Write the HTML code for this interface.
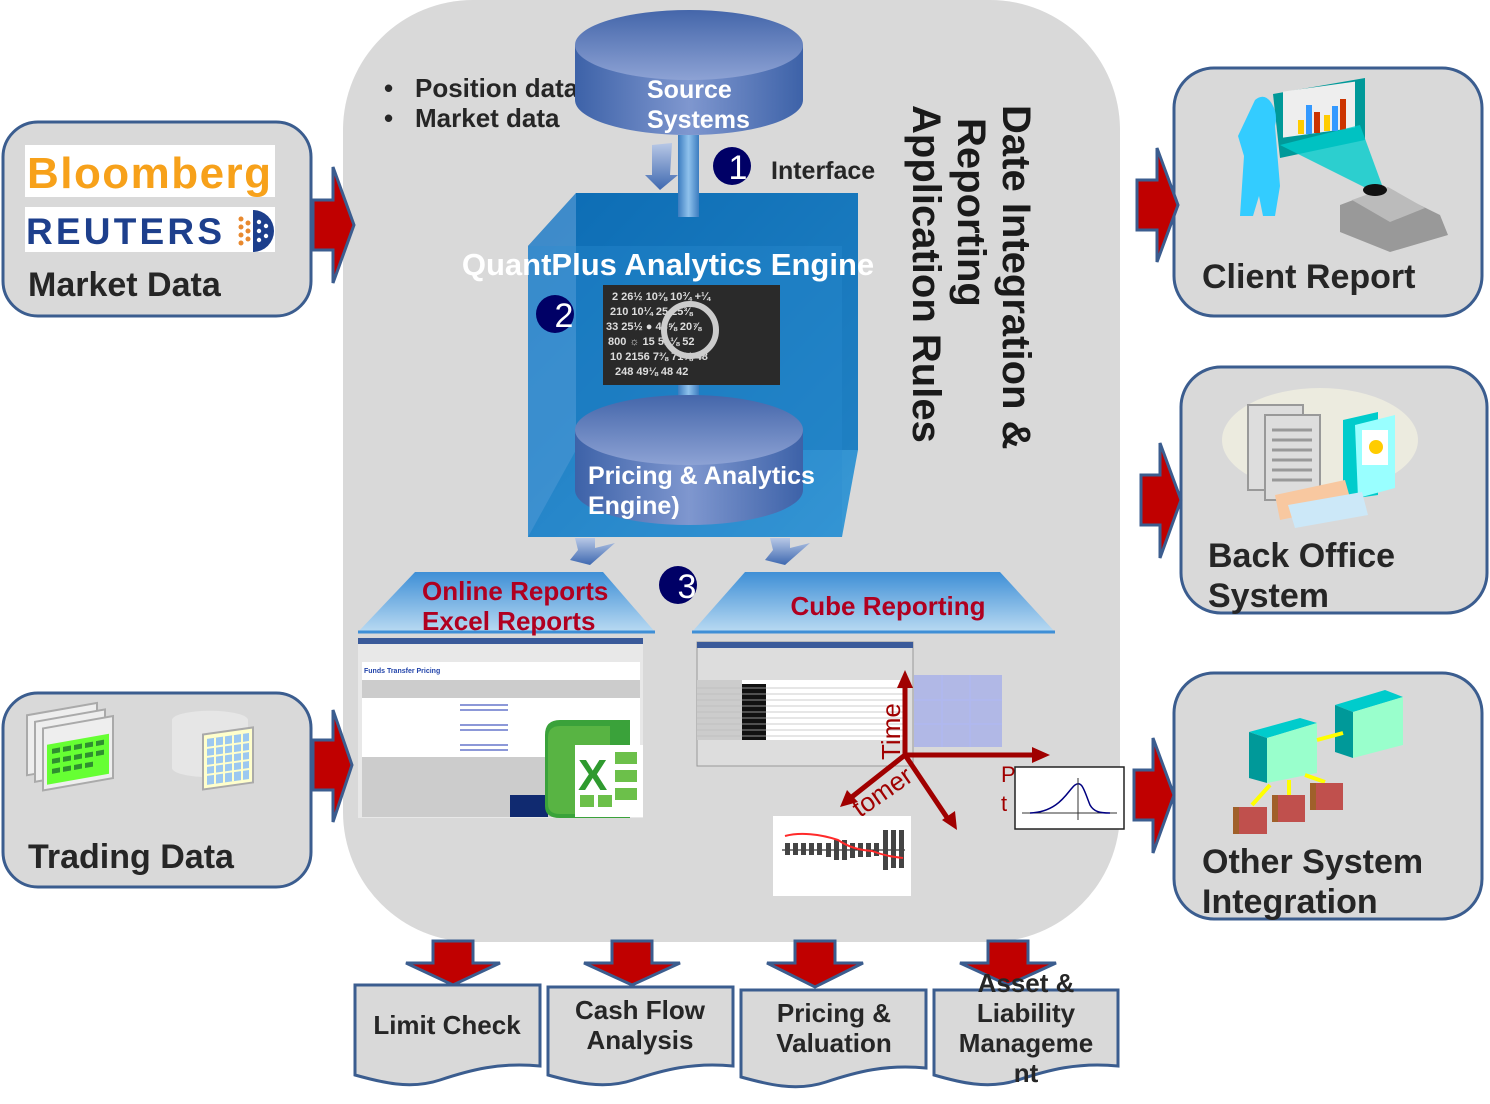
<!DOCTYPE html>
<html><head><meta charset="utf-8"><style>
html,body{margin:0;padding:0;background:#fff;}
svg{display:block;font-family:"Liberation Sans",sans-serif;}
</style></head><body>
<svg width="1490" height="1104" viewBox="0 0 1490 1104" xmlns="http://www.w3.org/2000/svg">
<defs>
<linearGradient id="cyl" x1="0" x2="1" y1="0" y2="0">
<stop offset="0" stop-color="#3d62a8"/><stop offset="0.5" stop-color="#7f97cf"/><stop offset="1" stop-color="#3d62a8"/></linearGradient>
<linearGradient id="cyltop" x1="0" x2="0" y1="0" y2="1">
<stop offset="0" stop-color="#4466aa"/><stop offset="1" stop-color="#8da2d4"/></linearGradient>
<linearGradient id="box" x1="0" x2="1" y1="0" y2="1">
<stop offset="0" stop-color="#0f6db5"/><stop offset="1" stop-color="#3a9ad6"/></linearGradient>
<linearGradient id="trap" x1="0" x2="0" y1="0" y2="1">
<stop offset="0" stop-color="#3f8fd6"/><stop offset="1" stop-color="#b9daf2"/></linearGradient>
<linearGradient id="pipe" x1="0" x2="1"><stop offset="0" stop-color="#3b7cc0"/><stop offset="0.5" stop-color="#8fc2ec"/><stop offset="1" stop-color="#3b7cc0"/></linearGradient>
<linearGradient id="dn" x1="0" x2="0" y1="0" y2="1"><stop offset="0" stop-color="#b8c8e6"/><stop offset="1" stop-color="#3e68b0"/></linearGradient>
</defs>

<rect x="343" y="0" width="777" height="942" rx="130" fill="#d9d9d9"/>

<rect x="3" y="122" width="308" height="194" rx="35" fill="#d9d9d9" stroke="#3b5d8f" stroke-width="3"/>
<rect x="25" y="145" width="250" height="52" fill="#fff"/>
<text x="27" y="188" font-size="44" font-weight="bold" fill="#f7a11a" textLength="244">Bloomberg</text>
<rect x="25" y="207" width="250" height="45" fill="#fff"/>
<text x="26" y="244" font-size="37" font-weight="bold" fill="#1d3f8c" textLength="196">REUTERS</text>
<g fill="#e8892f"><circle cx="241" cy="219" r="2.5"/><circle cx="241" cy="227" r="2.5"/><circle cx="241" cy="235" r="2.5"/><circle cx="241" cy="243" r="2.5"/><circle cx="248" cy="223" r="2.5"/><circle cx="248" cy="231" r="2.5"/><circle cx="248" cy="239" r="2.5"/></g>
<path d="M253,210 A21,21 0 0 1 253,252 Z" fill="#1d3f8c"/>
<g fill="#fff"><circle cx="259" cy="222" r="2.2"/><circle cx="259" cy="231" r="2.2"/><circle cx="259" cy="240" r="2.2"/><circle cx="266" cy="226" r="2.2"/><circle cx="266" cy="236" r="2.2"/></g>
<text x="28" y="296" font-size="34" font-weight="bold" fill="#262626">Market Data</text>

<rect x="3" y="693" width="308" height="194" rx="35" fill="#d9d9d9" stroke="#3b5d8f" stroke-width="3"/>
<g>
<rect x="27" y="715" width="70" height="60" fill="#eee" stroke="#aaa" stroke-width="2" transform="skewY(-10) translate(0,5)"/>
<rect x="35" y="722" width="70" height="60" fill="#eee" stroke="#aaa" stroke-width="2" transform="skewY(-10) translate(0,6)"/>
<rect x="43" y="728" width="70" height="62" fill="#eee" stroke="#aaa" stroke-width="2" transform="skewY(-10) translate(0,8)"/>
<rect x="47" y="745" width="62" height="40" fill="#66ff33" transform="skewY(-10) translate(0,8)"/>
<g fill="#2f8f2f" transform="skewY(-10) translate(0,8)"><rect x="52" y="750" width="8" height="5"/><rect x="63" y="750" width="8" height="5"/><rect x="74" y="750" width="8" height="5"/><rect x="85" y="750" width="8" height="5"/><rect x="96" y="750" width="8" height="5"/><rect x="52" y="760" width="8" height="5"/><rect x="63" y="760" width="8" height="5"/><rect x="74" y="760" width="8" height="5"/><rect x="85" y="760" width="8" height="5"/><rect x="96" y="760" width="8" height="5"/><rect x="52" y="770" width="8" height="5"/><rect x="63" y="770" width="8" height="5"/><rect x="74" y="770" width="8" height="5"/><rect x="85" y="770" width="8" height="5"/></g>
<path d="M172,720 a37,9 0 0 1 76,0 v48 a37,9 0 0 1 -76,0 z" fill="#e6e6e6"/>
<rect x="203" y="735" width="50" height="55" fill="#ffffcc" stroke="#aaa" stroke-width="2" transform="skewY(-8) translate(0,28)"/>
<rect x="207" y="740" width="42" height="46" fill="#9cc8f0" transform="skewY(-8) translate(0,28)"/>
<g stroke="#ffffcc" stroke-width="2" transform="skewY(-8) translate(0,28)"><line x1="207" y1="749" x2="249" y2="749"/><line x1="207" y1="758" x2="249" y2="758"/><line x1="207" y1="767" x2="249" y2="767"/><line x1="207" y1="776" x2="249" y2="776"/><line x1="215" y1="740" x2="215" y2="786"/><line x1="224" y1="740" x2="224" y2="786"/><line x1="233" y1="740" x2="233" y2="786"/><line x1="242" y1="740" x2="242" y2="786"/></g>
</g>
<text x="28" y="868" font-size="34" font-weight="bold" fill="#262626">Trading Data</text>

<path d="M313,200 H333 V167 L354,225 L333,283 V250 H313 Z" fill="#c00000" stroke="#3b5d8f" stroke-width="3"/>
<path d="M313,740 H333 V710 L352,765 L333,822 V790 H313 Z" fill="#c00000" stroke="#3b5d8f" stroke-width="3"/>

<rect x="1174" y="68" width="308" height="248" rx="40" fill="#d9d9d9" stroke="#3b5d8f" stroke-width="3"/>
<polygon points="1273,94 1365,78 1365,140 1280,158" fill="#009999"/>
<rect x="1283" y="92" width="72" height="46" fill="#eee" transform="skewY(-8) translate(0,180)"/>
<g><rect x="1298" y="120" width="6" height="14" fill="#ffcc00"/><rect x="1306" y="105" width="6" height="29" fill="#3399ff"/><rect x="1314" y="112" width="6" height="21" fill="#cc3300"/><rect x="1324" y="115" width="6" height="16" fill="#ffcc00"/><rect x="1332" y="106" width="6" height="25" fill="#3399ff"/><rect x="1340" y="99" width="6" height="31" fill="#cc3300"/></g>
<polygon points="1280,145 1360,125 1382,185 1370,190" fill="#00cccc" opacity="0.8"/>
<path d="M1255,100 q10,-8 17,4 q6,10 3,22 l5,60 l-5,30 h-12 l-4,-20 l-6,20 h-13 l4,-60 l-6,-20 z" fill="#33ccff"/>
<polygon points="1340,205 1385,188 1440,215 1448,235 1390,252 1340,232" fill="#999"/>
<polygon points="1352,200 1388,187 1425,208 1390,222" fill="#bbb"/>
<ellipse cx="1375" cy="190" rx="12" ry="6" fill="#111"/>
<text x="1202" y="288" font-size="34" font-weight="bold" fill="#262626">Client Report</text>

<rect x="1181" y="367" width="306" height="246" rx="40" fill="#d9d9d9" stroke="#3b5d8f" stroke-width="3"/>
<ellipse cx="1320" cy="440" rx="98" ry="52" fill="#ecebdf"/>
<rect x="1248" y="405" width="55" height="85" fill="#ddd" stroke="#999" stroke-width="2"/>
<rect x="1265" y="415" width="55" height="85" fill="#ddd" stroke="#999" stroke-width="2"/>
<g stroke="#999" stroke-width="3"><line x1="1272" y1="430" x2="1312" y2="430"/><line x1="1272" y1="440" x2="1312" y2="440"/><line x1="1272" y1="450" x2="1312" y2="450"/><line x1="1272" y1="460" x2="1312" y2="460"/><line x1="1272" y1="470" x2="1312" y2="470"/><line x1="1272" y1="480" x2="1312" y2="480"/></g>
<polygon points="1343,420 1378,412 1378,495 1343,500" fill="#00cccc"/>
<polygon points="1355,425 1395,415 1395,488 1358,498" fill="#99ffff"/>
<rect x="1362" y="430" width="26" height="35" fill="#fff"/>
<circle cx="1376" cy="447" r="7" fill="#ffcc00"/>
<polygon points="1275,495 1345,480 1352,505 1280,520" fill="#f8c8a0"/>
<polygon points="1288,505 1362,492 1368,515 1295,528" fill="#cce8f8"/>
<text x="1208" y="567" font-size="34" font-weight="bold" fill="#262626">Back Office</text>
<text x="1208" y="607" font-size="34" font-weight="bold" fill="#262626">System</text>

<rect x="1174" y="673" width="308" height="246" rx="40" fill="#d9d9d9" stroke="#3b5d8f" stroke-width="3"/>
<polygon points="1249,732 1300,718 1317,723 1267,738" fill="#00cccc"/>
<polygon points="1249,732 1267,738 1267,783 1249,778" fill="#009999"/>
<polygon points="1267,738 1317,723 1317,773 1267,783" fill="#99ffcc"/>
<polygon points="1335,705 1385,690 1403,697 1353,712" fill="#00cccc"/>
<polygon points="1335,705 1353,712 1353,758 1335,752" fill="#009999"/>
<polygon points="1353,712 1403,697 1403,745 1353,758" fill="#99ffcc"/>
<g stroke="#ffff00" stroke-width="4"><line x1="1317" y1="740" x2="1343" y2="733"/><line x1="1270" y1="785" x2="1252" y2="805"/><line x1="1289" y1="780" x2="1289" y2="795"/><line x1="1305" y1="775" x2="1325" y2="782"/></g>
<g><rect x="1233" y="807" width="34" height="27" fill="#c0504d"/><rect x="1233" y="807" width="6" height="27" fill="#a0602a"/>
<rect x="1272" y="795" width="33" height="27" fill="#c0504d"/><rect x="1272" y="795" width="6" height="27" fill="#a0602a"/>
<rect x="1310" y="783" width="33" height="27" fill="#c0504d"/><rect x="1310" y="783" width="6" height="27" fill="#a0602a"/></g>
<text x="1202" y="873" font-size="34" font-weight="bold" fill="#262626">Other System</text>
<text x="1202" y="913" font-size="34" font-weight="bold" fill="#262626">Integration</text>

<path d="M1137,180 H1157 V148 L1178,205 L1157,262 V230 H1137 Z" fill="#c00000" stroke="#3b5d8f" stroke-width="3"/>
<path d="M1141,475 H1160 V443 L1181,500 L1160,558 V525 H1141 Z" fill="#c00000" stroke="#3b5d8f" stroke-width="3"/>
<path d="M1134,770 H1153 V738 L1174,795 L1153,853 V820 H1134 Z" fill="#c00000" stroke="#3b5d8f" stroke-width="3"/>

<g font-size="26" font-weight="bold" fill="#262626">
<text x="384" y="97">•</text><text x="415" y="97">Position  data</text>
<text x="384" y="127">•</text><text x="415" y="127">Market data</text></g>

<polygon points="528,246 576,193 858,193 858,450 842,537 528,537" fill="url(#box)"/>
<rect x="576" y="193" width="282" height="257" fill="#0a6cb3" opacity="0.5"/>
<polygon points="528,246 576,193 576,450 528,537" fill="#5b9cd6" opacity="0.6"/>
<rect x="528" y="246" width="314" height="291" fill="#2a8bd0" opacity="0.35"/>

<path d="M575,45 V100 A114,35 0 0 0 803,100 V45 Z" fill="url(#cyl)"/>
<ellipse cx="689" cy="45" rx="114" ry="35" fill="url(#cyltop)"/>
<rect x="678" y="135" width="21" height="82" fill="url(#pipe)"/>
<polygon points="652,145 672,143 670,175 678,175 660,190 645,175 652,175" fill="url(#dn)"/>
<text x="647" y="98" font-size="25" font-weight="bold" fill="#fff">Source</text>
<text x="647" y="128" font-size="25" font-weight="bold" fill="#fff">Systems</text>

<circle cx="732" cy="166" r="19" fill="#000066"/><text x="738" y="179" font-size="34" fill="#fff" text-anchor="middle">1</text>
<text x="771" y="179" font-size="25" font-weight="bold" fill="#262626">Interface</text>

<rect x="603" y="285" width="177" height="100" fill="#2a2a2a"/>
<g fill="#ddd" font-size="11" font-weight="bold">
<text x="612" y="300">2 26½ 10⅜ 10¾ +¼</text><text x="610" y="315">210 10¼ 25 25⅜</text><text x="606" y="330">33 25½ ● 43⅝ 20⅞</text><text x="608" y="345">800 ☼ 15 51⅛ 52</text><text x="610" y="360">10 2156 7⅜ 71⅛ 48</text><text x="615" y="375">248 49⅛ 48 42</text></g>
<circle cx="690" cy="330" r="26" fill="none" stroke="#ccc" stroke-width="6"/>
<rect x="678" y="385" width="21" height="40" fill="url(#pipe)"/>

<text x="668" y="275" font-size="31" font-weight="bold" fill="#fff" text-anchor="middle">QuantPlus Analytics Engine</text>
<circle cx="555" cy="314" r="19" fill="#000066"/><text x="564" y="327" font-size="34" fill="#fff" text-anchor="middle">2</text>

<path d="M575,430 V490 A114,35 0 0 0 803,490 V430 Z" fill="url(#cyl)"/>
<ellipse cx="689" cy="430" rx="114" ry="35" fill="url(#cyltop)"/>
<text x="588" y="484" font-size="25" font-weight="bold" fill="#fff">Pricing &amp; Analytics</text>
<text x="588" y="514" font-size="25" font-weight="bold" fill="#fff">Engine)</text>

<polygon points="575,538 595,538 595,548 615,543 590,565 570,560 578,550" fill="url(#dn)"/>
<polygon points="770,538 790,538 790,548 810,543 785,565 765,560 773,550" fill="url(#dn)"/>

<g font-size="40" font-weight="bold" fill="#1a1a1a">
<text transform="translate(1003,105) rotate(90)">Date Integration &amp;</text>
<text transform="translate(958,118) rotate(90)">Reporting</text>
<text transform="translate(913,105) rotate(90)">Application Rules</text>
</g>

<polygon points="358,632 415,572 603,572 655,632" fill="url(#trap)"/>
<line x1="358" y1="632" x2="655" y2="632" stroke="#3f8fd6" stroke-width="3"/>
<text x="422" y="600" font-size="26" font-weight="bold" fill="#b00020">Online Reports</text>
<text x="422" y="630" font-size="26" font-weight="bold" fill="#b00020">Excel Reports</text>
<polygon points="692,632 745,572 1000,572 1055,632" fill="url(#trap)"/>
<line x1="692" y1="632" x2="1055" y2="632" stroke="#3f8fd6" stroke-width="3"/>
<text x="888" y="615" font-size="26" font-weight="bold" fill="#b00020" text-anchor="middle">Cube Reporting</text>
<circle cx="678" cy="585" r="19" fill="#000066"/><text x="687" y="598" font-size="34" fill="#fff" text-anchor="middle">3</text>

<rect x="358" y="638" width="285" height="180" fill="#e8e8e8"/>
<rect x="358" y="638" width="285" height="6" fill="#3a5a9a"/>
<rect x="362" y="662" width="278" height="100" fill="#fff"/>
<rect x="362" y="680" width="278" height="18" fill="#ccc"/>
<rect x="362" y="757" width="278" height="60" fill="#ccc"/>
<text x="364" y="673" font-size="7" fill="#2244aa" font-weight="bold">Funds Transfer Pricing</text>
<g stroke="#6677cc" stroke-width="1.5"><line x1="460" y1="705" x2="508" y2="705"/><line x1="460" y1="710" x2="508" y2="710"/><line x1="460" y1="725" x2="508" y2="725"/><line x1="460" y1="730" x2="508" y2="730"/><line x1="460" y1="745" x2="508" y2="745"/><line x1="460" y1="750" x2="508" y2="750"/></g>
<rect x="510" y="795" width="38" height="22" fill="#102a70"/>
<path d="M545,735 q0,-15 15,-15 h70 v98 h-70 q-15,0 -15,-12 z" fill="#3aa23a"/>
<path d="M548,738 q0,-12 12,-12 h50 v88 h-50 q-12,0 -12,-10 z" fill="#6cc04a" opacity="0.6"/>
<rect x="575" y="745" width="68" height="72" fill="#fff"/>
<g fill="#6cc04a"><rect x="615" y="752" width="22" height="12"/><rect x="615" y="770" width="22" height="12"/><rect x="615" y="788" width="22" height="12"/><rect x="580" y="795" width="14" height="12"/><rect x="598" y="795" width="14" height="12"/></g>
<text x="578" y="790" font-size="44" font-weight="bold" fill="#2f9a2f">X</text>

<rect x="697" y="642" width="216" height="124" fill="#ddd" stroke="#999"/>
<rect x="697" y="642" width="216" height="6" fill="#3a5a9a"/>
<rect x="697" y="680" width="210" height="60" fill="#fff"/>
<rect x="697" y="680" width="45" height="60" fill="#ccc"/>
<rect x="742" y="684" width="24" height="56" fill="#111"/>
<g stroke="#bbb" stroke-width="0.8"><line x1="697" y1="688" x2="907" y2="688"/><line x1="697" y1="694" x2="907" y2="694"/><line x1="697" y1="700" x2="907" y2="700"/><line x1="697" y1="706" x2="907" y2="706"/><line x1="697" y1="712" x2="907" y2="712"/><line x1="697" y1="718" x2="907" y2="718"/><line x1="697" y1="724" x2="907" y2="724"/><line x1="697" y1="730" x2="907" y2="730"/><line x1="697" y1="736" x2="907" y2="736"/></g>
<rect x="914" y="675" width="88" height="72" fill="#8f9cf0" opacity="0.55"/>
<g stroke="#b0b8f0" stroke-width="1.5"><line x1="942" y1="675" x2="942" y2="747"/><line x1="970" y1="675" x2="970" y2="747"/><line x1="914" y1="700" x2="1002" y2="700"/><line x1="914" y1="724" x2="1002" y2="724"/></g>

<g stroke="#a00000" stroke-width="5" fill="none">
<line x1="905" y1="755" x2="905" y2="685"/><line x1="905" y1="755" x2="1038" y2="755"/>
<line x1="905" y1="755" x2="848" y2="800"/><line x1="905" y1="755" x2="950" y2="822"/></g>
<g fill="#a00000"><polygon points="905,670 897,688 913,688"/><polygon points="1050,755 1032,747 1032,763"/><polygon points="840,807 847,790 858,802"/><polygon points="957,830 942,820 955,811"/></g>
<text transform="translate(900,760) rotate(-90)" font-size="26" fill="#a00000">Time</text>
<text transform="translate(860,818) rotate(-35)" font-size="26" fill="#a00000">tomer</text>
<text x="1001" y="782" font-size="22" fill="#a00000">P</text>
<text x="1001" y="811" font-size="22" fill="#a00000">t</text>

<rect x="1015" y="767" width="109" height="62" fill="#fff" stroke="#222" stroke-width="1.5"/>
<line x1="1022" y1="813" x2="1117" y2="813" stroke="#333"/>
<path d="M1030,813 C1060,812 1068,790 1075,785 C1082,780 1084,790 1090,805 C1094,812 1100,813 1110,813" fill="none" stroke="#000080" stroke-width="1.5"/>
<line x1="1078" y1="778" x2="1078" y2="820" stroke="#333"/>

<rect x="773" y="816" width="138" height="80" fill="#fff"/>
<line x1="782" y1="850" x2="905" y2="850" stroke="#000"/>
<g fill="#444"><rect x="785" y="843" width="5" height="12"/><rect x="793" y="843" width="5" height="12"/><rect x="801" y="843" width="5" height="12"/><rect x="809" y="843" width="5" height="12"/><rect x="817" y="843" width="5" height="12"/><rect x="826" y="843" width="5" height="14"/><rect x="834" y="840" width="5" height="20"/><rect x="842" y="840" width="5" height="20"/><rect x="850" y="843" width="5" height="15"/><rect x="858" y="843" width="5" height="14"/><rect x="866" y="843" width="5" height="14"/><rect x="874" y="843" width="5" height="13"/><rect x="883" y="830" width="5" height="40"/><rect x="891" y="830" width="5" height="38"/><rect x="899" y="830" width="5" height="38"/></g>
<path d="M785,836 C800,832 820,834 838,840 C850,848 860,850 872,851 C885,856 895,857 903,858" fill="none" stroke="#ff2a2a" stroke-width="2"/>

<g fill="#c00000" stroke="#3b5d8f" stroke-width="3">
<path d="M433,941 H473 V963 H500 L453,985 L406,963 H433 Z"/>
<path d="M612,941 H652 V963 H680 L632,985 L584,963 H612 Z"/>
<path d="M795,941 H835 V963 H863 L815,987 L767,963 H795 Z"/>
<path d="M988,941 H1028 V963 H1056 L1008,985 L960,963 H988 Z"/>
</g>

<g fill="#d9d9d9" stroke="#3b5d8f" stroke-width="3">
<path d="M355,985 H540 V1066 C500,1062 470,1070 440,1080 C410,1090 380,1082 355,1075 Z"/>
<path d="M548,987 H733 V1066 C693,1062 663,1070 633,1080 C603,1090 573,1082 548,1075 Z"/>
<path d="M741,990 H926 V1068 C886,1064 856,1072 826,1082 C796,1092 766,1084 741,1077 Z"/>
<path d="M934,990 H1118 V1066 C1078,1062 1048,1070 1018,1080 C988,1090 958,1082 934,1075 Z"/>
</g>
<g font-size="26" font-weight="bold" fill="#262626" text-anchor="middle">
<text x="447" y="1034">Limit Check</text>
<text x="640" y="1019">Cash Flow</text><text x="640" y="1049">Analysis</text>
<text x="834" y="1022">Pricing &amp;</text><text x="834" y="1052">Valuation</text>
<text x="1026" y="992">Asset &amp;</text><text x="1026" y="1022">Liability</text><text x="1026" y="1052">Manageme</text><text x="1026" y="1082">nt</text>
</g>
</svg>
</body></html>
